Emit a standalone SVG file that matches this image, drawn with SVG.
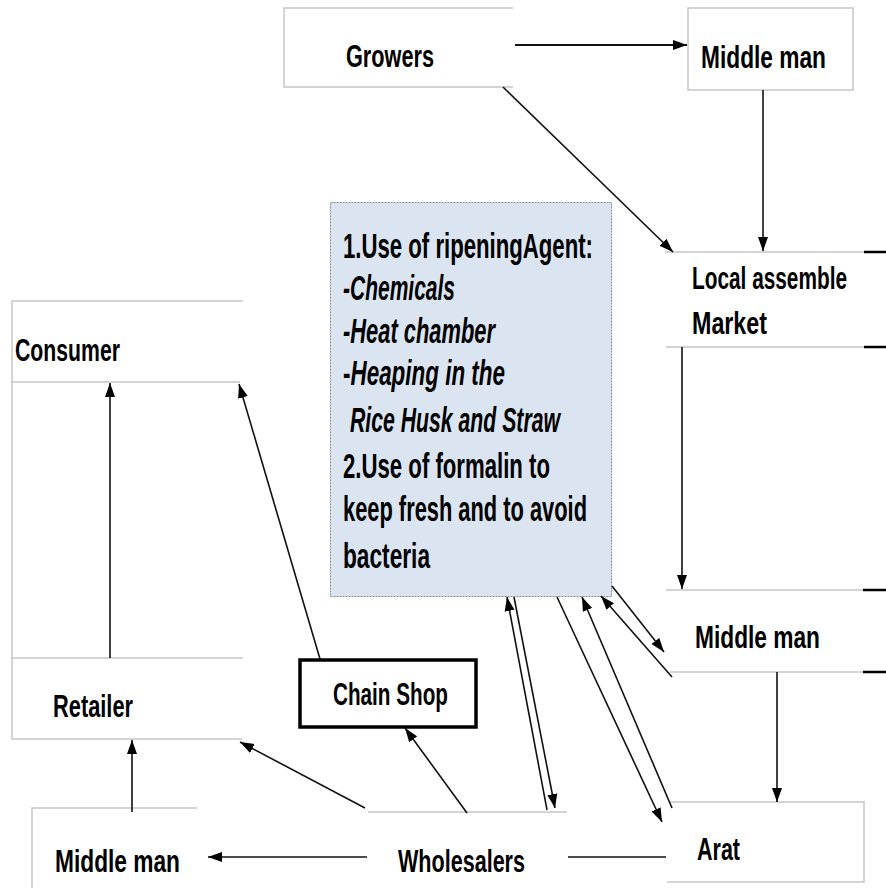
<svg xmlns="http://www.w3.org/2000/svg" width="886" height="888" viewBox="0 0 886 888">
<defs>
<marker id="arr" viewBox="0 0 14 10" markerUnits="userSpaceOnUse" markerWidth="14" markerHeight="11" refX="14" refY="5" orient="auto">
<path d="M0,0 L14,5 L0,10 z" fill="#000"/>
</marker>
<style>
.edge{stroke:#c6c6c6;stroke-width:1.5;fill:none}
.blk{stroke:#000;stroke-width:2.5;fill:none}
.lbl{font-family:"Liberation Sans",Arial,sans-serif;font-weight:bold;font-size:32px;fill:#000}
.box{font-family:"Liberation Sans",Arial,sans-serif;font-weight:bold;font-size:35px;fill:#000}
.it{font-style:italic}
.con line{stroke:#111;stroke-width:1.6;marker-end:url(#arr)}
.con line.plain{marker-end:none}
</style>
</defs>
<rect width="886" height="888" fill="#fff"/>

<g id="growers">
<path class="edge" d="M513,8 H284 V87 H513"/>
<text class="lbl" x="346" y="67" textLength="88" lengthAdjust="spacingAndGlyphs">Growers</text>
</g>

<g id="middleman-top">
<rect class="edge" x="688" y="8" width="165" height="82"/>
<text class="lbl" x="701" y="68" textLength="125" lengthAdjust="spacingAndGlyphs">Middle man</text>
</g>

<g id="local-market">
<path class="edge" d="M665,252 H864 M666,347 H864"/>
<path class="blk" d="M864,252 H886 M864,347 H886"/>
<text class="lbl" x="692" y="289" textLength="155" lengthAdjust="spacingAndGlyphs">Local assemble</text>
<text class="lbl" x="692" y="334" textLength="75" lengthAdjust="spacingAndGlyphs">Market</text>
</g>

<g id="middleman-mid">
<path class="edge" d="M666,590 H863 M670,672 H863"/>
<path class="blk" d="M863,590 H886 M863,672 H886"/>
<text class="lbl" x="695" y="648" textLength="125" lengthAdjust="spacingAndGlyphs">Middle man</text>
</g>

<g id="arat">
<path class="edge" d="M670,802 H864 V882 H667"/>
<text class="lbl" x="697" y="860" textLength="43" lengthAdjust="spacingAndGlyphs">Arat</text>
</g>

<g id="wholesalers">
<path class="edge" d="M368,812 H567"/>
<text class="lbl" x="398" y="872" textLength="127" lengthAdjust="spacingAndGlyphs">Wholesalers</text>
</g>

<g id="middleman-bottom">
<path class="edge" d="M197,808 H32 V888"/>
<text class="lbl" x="55" y="872" textLength="125" lengthAdjust="spacingAndGlyphs">Middle man</text>
</g>

<g id="consumer">
<path class="edge" d="M243,301 H12 V382 M12,382 H240"/>
<text class="lbl" x="15" y="361" textLength="105" lengthAdjust="spacingAndGlyphs">Consumer</text>
</g>

<g id="retailer">
<path class="edge" d="M12,382 V739 H242 M12,658 H243"/>
<text class="lbl" x="53" y="717" textLength="80" lengthAdjust="spacingAndGlyphs">Retailer</text>
</g>

<g id="chain-shop">
<rect x="300" y="660" width="176" height="67" fill="#fff" stroke="#000" stroke-width="3.5"/>
<text class="lbl" x="333" y="705" textLength="115" lengthAdjust="spacingAndGlyphs">Chain Shop</text>
</g>

<g id="practices">
<rect x="330.5" y="202.5" width="281" height="394" fill="#dbe5f1" stroke="#8a8a8a" stroke-width="1" stroke-dasharray="2,1"/>
<text class="box" x="343" y="258" textLength="250" lengthAdjust="spacingAndGlyphs">1.Use of ripeningAgent:</text>
<text class="box it" x="343" y="300" textLength="112" lengthAdjust="spacingAndGlyphs">-Chemicals</text>
<text class="box it" x="343" y="343" textLength="152" lengthAdjust="spacingAndGlyphs">-Heat chamber</text>
<text class="box" x="343" y="385" textLength="162" lengthAdjust="spacingAndGlyphs">-<tspan class="it">Heaping in the</tspan></text>
<text class="box it" x="350" y="432" textLength="210" lengthAdjust="spacingAndGlyphs">Rice Husk and Straw</text>
<text class="box" x="343" y="478" textLength="207" lengthAdjust="spacingAndGlyphs">2.Use of formalin to</text>
<text class="box" x="343" y="521" textLength="244" lengthAdjust="spacingAndGlyphs">keep fresh and to avoid</text>
<text class="box" x="343" y="568" textLength="87" lengthAdjust="spacingAndGlyphs">bacteria</text>
</g>

<g id="connectors" class="con">
<line x1="515" y1="45" x2="687" y2="45" style="stroke-width:2.2"/>
<line x1="503" y1="87" x2="673" y2="252"/>
<line x1="763" y1="90" x2="763" y2="251"/>
<line x1="682" y1="347" x2="682" y2="589"/>
<line x1="777" y1="672" x2="777" y2="802"/>
<line x1="612" y1="586" x2="664" y2="652"/>
<line x1="672" y1="677" x2="601" y2="596"/>
<line x1="547" y1="810" x2="507" y2="597"/>
<line x1="514" y1="597" x2="555" y2="808"/>
<line x1="557" y1="597" x2="662" y2="822"/>
<line x1="672" y1="808" x2="582" y2="597"/>
<line class="plain" x1="568" y1="857" x2="666" y2="857"/>
<line x1="367" y1="857" x2="208" y2="857"/>
<line x1="132" y1="812" x2="132" y2="740"/>
<line x1="110" y1="658" x2="110" y2="383"/>
<line x1="320" y1="659" x2="239" y2="384"/>
<line x1="467" y1="813" x2="405" y2="728"/>
<line x1="365" y1="808" x2="240" y2="742"/>
</g>
</svg>
